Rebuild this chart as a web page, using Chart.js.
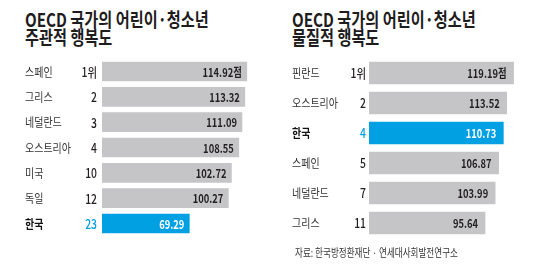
<!DOCTYPE html>
<html><head><meta charset="utf-8">
<script src="https://cdn.jsdelivr.net/npm/chart.js@4/dist/chart.umd.min.js"></script>
<style>
html,body{margin:0;padding:0;background:#fff;}
body{width:540px;height:280px;position:relative;overflow:hidden;font-family:"Noto Sans CJK KR",sans-serif;}
canvas{position:absolute;top:0;}
.title{position:absolute;top:10px;font-weight:bold;font-size:19px;line-height:18px;color:#1e1c1d;white-space:nowrap;transform:scaleX(0.8);transform-origin:left top;}
.src{position:absolute;left:295px;top:245px;font-size:11px;line-height:14px;color:#333;white-space:nowrap;transform:scaleX(0.78);transform-origin:left top;}
</style></head>
<body>
<div class="title" style="left:25px">OECD 국가의 어린이·청소년<br>주관적 행복도</div>
<div class="title" style="left:292px">OECD 국가의 어린이·청소년<br>물질적 행복도</div>
<canvas id="c1" width="270" height="280" style="left:0"></canvas>
<canvas id="c2" width="270" height="280" style="left:270px"></canvas>
<div class="src">자료: 한국방정환재단 · 연세대사회발전연구소</div>
<script>
const leftCountries = ['스페인','그리스','네덜란드','오스트리아','미국','독일','한국'];
const leftRanks = ['1위','2','3','4','10','12','23'];
const leftValues = [114.92,113.32,111.09,108.55,102.72,100.27,69.29];

const rightCountries = ['핀란드','오스트리아','한국','스페인','네덜란드','그리스'];
const rightRanks = ['1위','2','4','5','7','11'];
const rightValues = [119.19,113.52,110.73,106.87,103.99,95.64];

const highlight = '한국';
const unitSuffix = '점';

const GREY = '#c5c5c7', BLUE = '#00a0e3', DARK = '#231f20';
const FONT = '"Noto Sans CJK KR", sans-serif';

function drawText(ctx, text, x, y, align, font, color, sx) {
  ctx.save();
  ctx.font = font;
  ctx.fillStyle = color;
  ctx.textAlign = align;
  ctx.textBaseline = 'middle';
  ctx.translate(x, y);
  ctx.scale(sx, 1);
  ctx.fillText(text, 0, 0);
  ctx.restore();
}

function makeChart(id, countries, ranks, values, cfg) {
  const labelPlugin = {
    id: 'rowLabels',
    afterDatasetsDraw(chart) {
      const ctx = chart.ctx;
      const meta = chart.getDatasetMeta(0);
      meta.data.forEach((bar, i) => {
        const hi = countries[i] === highlight;
        const y = bar.y + 0.5;
        drawText(ctx, countries[i], cfg.nameX, y, 'left',
          (hi ? 'bold ' : '') + '12.5px ' + FONT, hi ? '#111' : '#333', 0.8);
        drawText(ctx, ranks[i], cfg.rankX, y, 'right',
          '500 13px ' + FONT, hi ? BLUE : DARK, 0.8);
        const txt = values[i].toFixed(2) + (i === 0 ? unitSuffix : '');
        drawText(ctx, txt, bar.x - cfg.valPad, y, 'right',
          'bold 12px ' + FONT, hi ? '#fff' : DARK, 0.78);
      });
    }
  };
  return new Chart(document.getElementById(id), {
    type: 'bar',
    data: {
      labels: countries,
      datasets: [{
        data: values,
        backgroundColor: countries.map(c => c === highlight ? BLUE : GREY),
        borderWidth: 0,
        barThickness: cfg.barThickness
      }]
    },
    options: {
      indexAxis: 'y',
      responsive: false,
      animation: false,
      events: [],
      layout: { padding: cfg.padding },
      plugins: { legend: { display: false }, tooltip: { enabled: false }, title: { display: false } },
      scales: {
        x: { display: false, min: 0, max: 130 },
        y: { display: false }
      }
    },
    plugins: [labelPlugin]
  });
}

makeChart('c1', leftCountries, leftRanks, leftValues, {
  nameX: 25, rankX: 97, valPad: 5, barThickness: 19,
  padding: { left: 102, right: 4.2, top: 58.8, bottom: 43.8 }
});
makeChart('c2', rightCountries, rightRanks, rightValues, {
  nameX: 22, rankX: 96, valPad: 7, barThickness: 22,
  padding: { left: 99, right: 13.3, top: 58, bottom: 42 }
});
</script>
</body></html>
